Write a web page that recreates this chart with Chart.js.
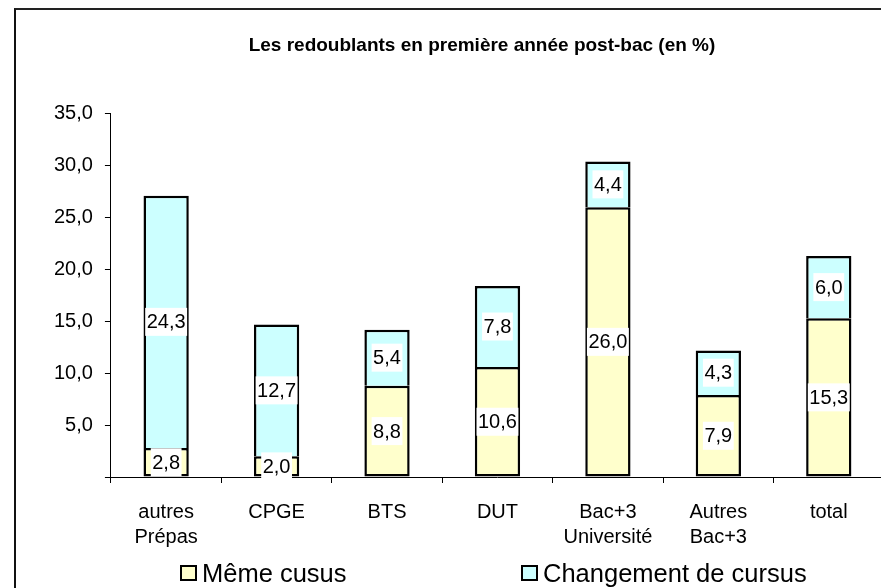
<!DOCTYPE html>
<html lang="fr">
<head>
<meta charset="utf-8">
<title>Les redoublants en première année post-bac</title>
<script src="https://cdn.jsdelivr.net/npm/chart.js@4.4.0/dist/chart.umd.min.js"></script>
<style>
  html, body { margin: 0; padding: 0; overflow: hidden; background: #fff; width: 881px; height: 588px; }
  body { position: relative; font-family: "Liberation Sans", Arial, sans-serif; color: #000; }
  .frame { position: absolute; left: 14px; top: 8px; width: 1000px; height: 1000px; border-left: 2px solid #111; border-top: 2px solid #222; }
  .chart-box { position: absolute; left: 16px; top: 10px; width: 924px; height: 557px; }
  .legend { position: absolute; left: 180px; top: 558px; display: flex; font-size: 25.5px; line-height: 30px; }
  .legend-item { display: flex; align-items: center; width: 341px; white-space: nowrap; }
  .legend-box { width: 13px; height: 12px; border: 2px solid #000; margin-right: 5px; }
</style>
</head>
<body>
<div class="frame"></div>
<div class="chart-box"><canvas id="redoublants"></canvas></div>
<div class="legend" id="legend"></div>

<script>
// categories (two-line labels as arrays)
const categories = [
  ["autres", "Prépas"],
  "CPGE",
  "BTS",
  "DUT",
  ["Bac+3", "Université"],
  ["Autres", "Bac+3"],
  "total"
];
const seriesNames = ["Même cusus", "Changement de cursus"];
const memeCursus = [2.8, 2.0, 8.8, 10.6, 26.0, 7.9, 15.3];
const changementCursus = [24.3, 12.7, 5.4, 7.8, 4.4, 4.3, 6.0];
const yTicks = [0, 5, 10, 15, 20, 25, 30, 35];

(() => {
  const font = "'Liberation Sans', Arial, sans-serif";
  const colors = { meme: "#FFFFCC", changement: "#CCFFFF", border: "#000000" };
  const fmt = (v) => v.toFixed(1).replace(".", ",");

  // white boxed value labels centred in each segment
  const valueLabels = {
    id: "valueLabels",
    afterDatasetsDraw(chart) {
      const ctx = chart.ctx;
      ctx.save();
      ctx.font = "20px " + font;
      ctx.textAlign = "center";
      ctx.textBaseline = "middle";
      chart.data.datasets.forEach((ds, i) => {
        const meta = chart.getDatasetMeta(i);
        meta.data.forEach((bar, j) => {
          const { x, y, base } = bar.getProps(["x", "y", "base"], true);
          const cy = (y + base) / 2;
          const text = fmt(ds.data[j]);
          const w = ctx.measureText(text).width + 3;
          const h = 28;
          ctx.fillStyle = "#ffffff";
          ctx.fillRect(x - w / 2, cy - h / 2, w, h);
          ctx.fillStyle = "#000000";
          ctx.fillText(text, x, cy + 1);
        });
      });
      ctx.restore();
    }
  };

  const canvas = document.getElementById("redoublants");
  new Chart(canvas, {
    type: "bar",
    data: {
      labels: categories,
      datasets: [
        {
          label: seriesNames[0],
          data: memeCursus,
          backgroundColor: colors.meme,
          borderColor: colors.border,
          borderWidth: 2.5,
          borderSkipped: false,
          barPercentage: 0.41,
          categoryPercentage: 1
        },
        {
          label: seriesNames[1],
          data: changementCursus,
          backgroundColor: colors.changement,
          borderColor: colors.border,
          borderWidth: 2.5,
          barPercentage: 0.41,
          categoryPercentage: 1
        }
      ]
    },
    options: {
      responsive: true,
      maintainAspectRatio: false,
      animation: false,
      layout: { padding: { left: 26, right: 18, top: 0, bottom: 0 } },
      plugins: {
        legend: { display: false },
        tooltip: { enabled: false },
        title: {
          display: true,
          text: "Les redoublants en première année post-bac (en %)",
          color: "#000",
          font: { family: font, size: 19, weight: "bold" },
          padding: { top: 24, bottom: 57 }
        }
      },
      scales: {
        x: {
          stacked: true,
          z: 1,
          border: { color: "#000", width: 1 },
          grid: { display: true, drawOnChartArea: false, drawTicks: true, tickLength: 6, color: "#000", offset: true },
          ticks: { color: "#000", padding: 17, maxRotation: 0, autoSkip: false, font: { family: font, size: 20, lineHeight: 1.25 } }
        },
        y: {
          stacked: true,
          min: yTicks[0],
          max: yTicks[yTicks.length - 1],
          afterBuildTicks: (axis) => { axis.ticks = yTicks.map((v) => ({ value: v })); },
          border: { color: "#000", width: 1 },
          grid: { display: true, drawOnChartArea: false, drawTicks: true, tickLength: 6, color: "#000" },
          ticks: {
            color: "#000",
            padding: 12,
            font: { family: font, size: 20 },
            callback: (v) => (v === 0 ? "" : fmt(v))
          }
        },
        // empty right-hand spacer so the title sits where the original has it
        spacer: {
          position: "right",
          display: true,
          grid: { display: false },
          border: { display: false },
          ticks: { display: false },
          afterFit: (axis) => { axis.width = 38; }
        }
      }
    },
    plugins: [valueLabels]
  });

  // legend laid out like the spreadsheet one
  const legend = document.getElementById("legend");
  [colors.meme, colors.changement].forEach((c, i) => {
    const item = document.createElement("div");
    item.className = "legend-item";
    const box = document.createElement("span");
    box.className = "legend-box";
    box.style.background = c;
    const label = document.createElement("span");
    label.textContent = seriesNames[i];
    item.appendChild(box);
    item.appendChild(label);
    legend.appendChild(item);
  });
})();
</script>
</body>
</html>
